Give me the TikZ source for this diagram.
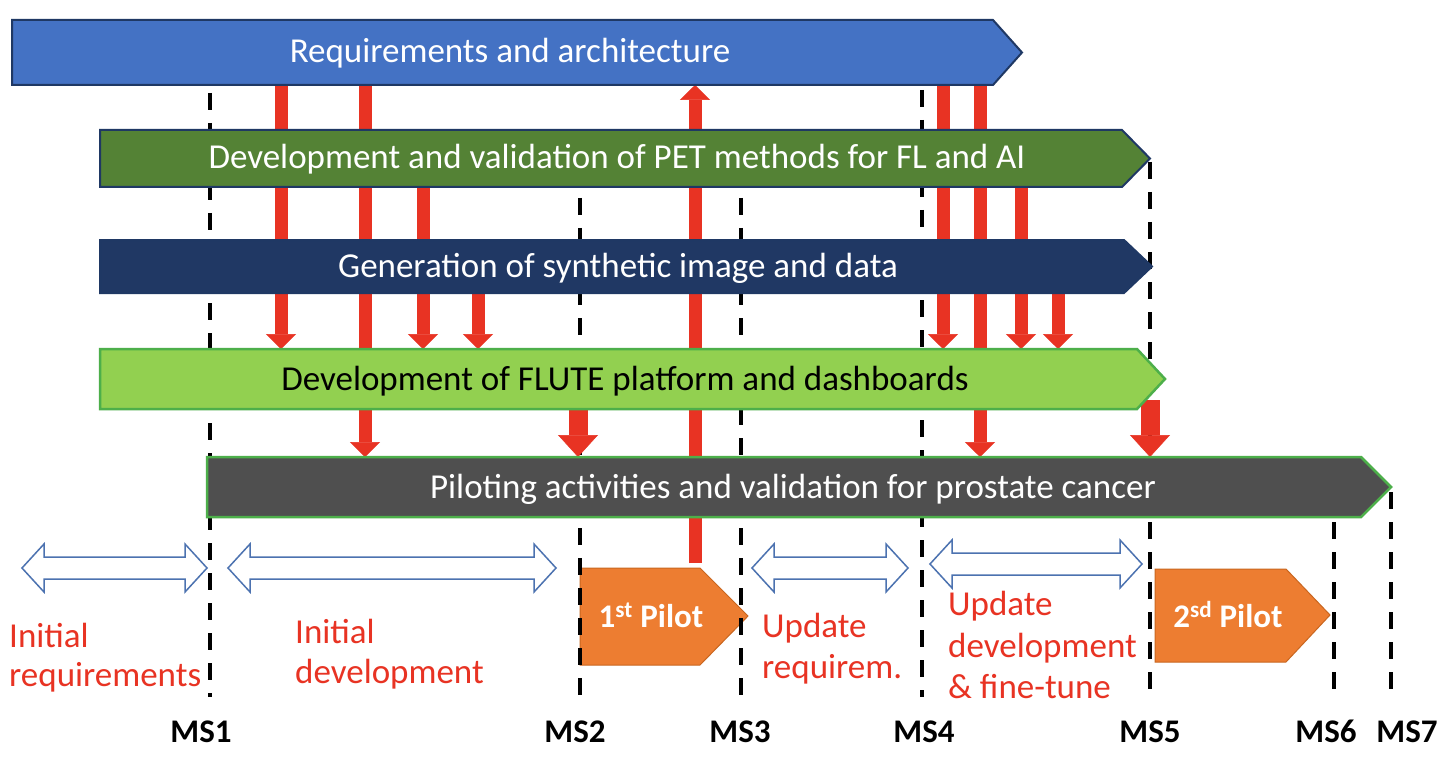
\documentclass[tikz,border=0pt]{standalone}
\usepackage{fontspec}
\setmainfont{Carlito}
\usetikzlibrary{arrows.meta}
\definecolor{cblue}{HTML}{4472C4}
\definecolor{cdark}{HTML}{1F3864}
\definecolor{cgreen}{HTML}{548235}
\definecolor{cnavy}{HTML}{203864}
\definecolor{clight}{HTML}{92D050}
\definecolor{clightb}{HTML}{4DAF4A}
\definecolor{cgray}{HTML}{4F4F4F}
\definecolor{corange}{HTML}{ED7D31}
\definecolor{corangeb}{HTML}{C9661F}
\definecolor{cred}{HTML}{E83323}
\definecolor{chollow}{HTML}{4C72B0}
\newcommand{\tlbar}[6]{\path[#1] (#2,#3) -- (#4,#3) -- (#5,{(#3+#6)/2}) -- (#4,#6) -- (#2,#6) -- cycle;}
\newcommand{\hollowarr}[3]{\path[hollow] (#1,#3) -- (#1+22,#3-24) -- (#1+22,#3-11) -- (#2-22,#3-11) -- (#2-22,#3-24) -- (#2,#3) -- (#2-22,#3+24) -- (#2-22,#3+11) -- (#1+22,#3+11) -- (#1+22,#3+24) -- cycle;}
\begin{document}
\begin{tikzpicture}[x=1pt,y=-1pt,
  bartext/.style={font=\fontsize{35}{41}\selectfont, inner sep=0pt},
  redlab/.style={font=\fontsize{35}{41}\selectfont, text=cred, inner sep=0pt, anchor=base west},
  mslab/.style={font=\fontsize{33}{38}\selectfont\bfseries, inner sep=0pt, anchor=base},
  pilottext/.style={font=\fontsize{33}{38}\selectfont\bfseries, text=white, inner sep=0pt, anchor=base},
  msline/.style={draw=black, line width=4pt, dash pattern=on 17pt off 13pt},
  redarr/.style={draw=cred, line width=13pt, -{Triangle[width=30pt,length=15pt,line width=0.5pt]}},
  bigarr/.style={draw=cred, line width=19pt, -{Triangle[width=40pt,length=22pt,line width=0.5pt]}},
  hollow/.style={draw=chollow, line width=1.5pt, fill=white, line join=miter},
  pilot/.style={fill=corange, draw=corangeb, line width=1pt}]
\useasboundingbox (0,0) rectangle (1456,762);
\fill[white] (0,0) rectangle (1456,762);

% pilot boxes
\path[pilot] (580,568) -- (700,568) -- (748,616) -- (700,665) -- (580,665) -- cycle;
\path[pilot] (1155,569) -- (1286,569) -- (1330,615) -- (1286,662) -- (1155,662) -- cycle;
\node[pilottext] (p1) at (651,627) {1\textsuperscript{st} Pilot};
\node[pilottext] (p2) at (1228,627) {2\textsuperscript{sd} Pilot};

% milestone lines
\coordinate (m1a) at (210,93);  \coordinate (m1b) at (210,697);
\coordinate (m2a) at (580,198); \coordinate (m2b) at (580,697);
\coordinate (m3a) at (741,198); \coordinate (m3b) at (741,697);
\coordinate (m4a) at (922,90);  \coordinate (m4b) at (922,697);
\coordinate (m5a) at (1150,162);\coordinate (m5b) at (1150,697);
\coordinate (m6a) at (1334,522);\coordinate (m6b) at (1334,697);
\coordinate (m7a) at (1391,492);\coordinate (m7b) at (1391,697);
\foreach \i in {1,...,7} {\draw[msline] (m\i a) -- (m\i b);}

% red arrows
\coordinate (r1a) at (281,85);   \coordinate (r1b) at (281,349);
\coordinate (r2a) at (365,85);   \coordinate (r2b) at (365,457);
\coordinate (r3a) at (423,187);  \coordinate (r3b) at (423,349);
\coordinate (r4a) at (478,293);  \coordinate (r4b) at (478,349);
\coordinate (r5a) at (578,409);  \coordinate (r5b) at (578,457);
\coordinate (r6a) at (695,563);  \coordinate (r6b) at (695,85);
\coordinate (r7a) at (943,85);   \coordinate (r7b) at (943,349);
\coordinate (r8a) at (980,85);   \coordinate (r8b) at (980,457);
\coordinate (r9a) at (1021,187); \coordinate (r9b) at (1021,349);
\coordinate (r10a) at (1058,293);\coordinate (r10b) at (1058,349);
\coordinate (r11a) at (1150,400);\coordinate (r11b) at (1150,457);
\foreach \i in {1,2,3,4,6,7,8,9,10} {\draw[redarr] (r\i a) -- (r\i b);}
\draw[bigarr] (r5a) -- (r5b);
\draw[bigarr] (r11a) -- (r11b);

% bars
\tlbar{fill=cblue, draw=cdark, line width=2pt}{12}{20}{993}{1022}{85}
\tlbar{fill=cgreen, draw=cdark, line width=2pt}{100}{130}{1122}{1150}{187}
\tlbar{fill=cnavy, draw=cdark, line width=2pt}{100}{240}{1124}{1152}{293}
\tlbar{fill=clight, draw=clightb, line width=2.5pt}{100}{349}{1137}{1165}{409}
\tlbar{fill=cgray, draw=clightb, line width=2.5pt}{207}{457}{1361}{1391}{517}
\node[bartext, text=white] (b1) at (510,53) {Requirements and architecture};
\node[bartext, text=white] (b2) at (617,159) {Development and validation of PET methods for FL and AI};
\node[bartext, text=white] (b3) at (618,268) {Generation of synthetic image and data};
\node[bartext, text=black] (b4) at (625,381) {Development of FLUTE platform and dashboards};
\node[bartext, text=white] (b5) at (793,489) {Piloting activities and validation for prostate cancer};

% hollow double arrows
\hollowarr{22}{207}{568}
\hollowarr{228}{556}{568}
\hollowarr{752}{908}{568}
\hollowarr{930}{1142}{564}

% red labels
\node[redlab] (l1a) at (9,647) {Initial};
\node[redlab] (l1b) at (9,686) {requirements};
\node[redlab] (l2a) at (295,643) {Initial};
\node[redlab] (l2b) at (295,683) {development};
\node[redlab] (l3a) at (762,637) {Update};
\node[redlab] (l3b) at (762,678) {requirem.};
\node[redlab] (l4a) at (948,615) {Update};
\node[redlab] (l4b) at (948,657) {development};
\node[redlab] (l4c) at (948,698) {\& fine-tune};

% milestone labels
\node[mslab] (ms1) at (201,742) {MS1};
\node[mslab] (ms2) at (575,742) {MS2};
\node[mslab] (ms3) at (740,742) {MS3};
\node[mslab] (ms4) at (924,742) {MS4};
\node[mslab] (ms5) at (1150,742) {MS5};
\node[mslab] (ms6) at (1326,742) {MS6};
\node[mslab] (ms7) at (1407,742) {MS7};
\end{tikzpicture}
\end{document}
